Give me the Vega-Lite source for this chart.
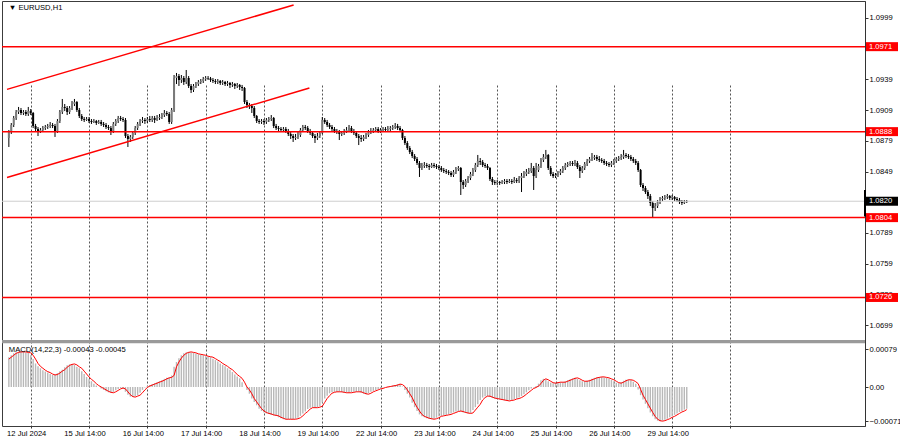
{
"$schema": "https://vega.github.io/schema/vega-lite/v6.json",
"width": 863,
"height": 425,
"autosize": "none",
"padding": {"left": 2, "top": 1, "right": 35, "bottom": 15},
"background": "white",
"config": {
  "view": {"stroke": "#3c3c3c", "strokeWidth": 1},
  "font": "Liberation Sans",
  "axis": {"labelFont": "Liberation Sans", "labelFontSize": 7.6, "labelColor": "#000", "domainColor": "#333", "tickColor": "#333", "title": null, "grid": false}
},
"datasets": {
"tags": [
{"p": 1.0971, "t": "1.0971", "k": "lvl"},
{"p": 1.0888, "t": "1.0888", "k": "lvl"},
{"p": 1.0804, "t": "1.0804", "k": "lvl"},
{"p": 1.0726, "t": "1.0726", "k": "lvl"},
{"p": 1.082, "t": "1.0820", "k": "cur"}
],
"channels": [
{"ch": "a", "i": -9.76, "p": 1.09293},
{"ch": "a", "i": 108.2, "p": 1.10117},
{"ch": "b", "i": -9.76, "p": 1.08431},
{"ch": "b", "i": 114.7, "p": 1.09306}
],
"bars": [
{"i":-9,"o":1.08818,"h":1.08896,"l":1.0873,"c":1.08876,"m":0.00062,"s":0.00058},
{"i":-8,"o":1.08876,"h":1.08964,"l":1.08857,"c":1.08945,"m":0.00066,"s":0.00062},
{"i":-7,"o":1.08945,"h":1.09033,"l":1.08925,"c":1.09013,"m":0.0007,"s":0.00066},
{"i":-6,"o":1.09013,"h":1.09091,"l":1.08994,"c":1.09072,"m":0.00072,"s":0.0007},
{"i":-5,"o":1.09072,"h":1.09121,"l":1.09052,"c":1.09091,"m":0.00073,"s":0.00072},
{"i":-4,"o":1.09091,"h":1.09111,"l":1.09042,"c":1.09062,"m":0.00073,"s":0.00073},
{"i":-3,"o":1.09062,"h":1.09091,"l":1.09042,"c":1.09072,"m":0.00073,"s":0.00073},
{"i":-2,"o":1.09072,"h":1.09091,"l":1.09033,"c":1.09052,"m":0.00072,"s":0.00073},
{"i":-1,"o":1.09052,"h":1.09121,"l":1.09033,"c":1.09081,"m":0.00071,"s":0.00072},
{"i":0,"o":1.09081,"h":1.09101,"l":1.09042,"c":1.09062,"m":0.00066,"s":0.00071},
{"i":1,"o":1.09062,"h":1.09072,"l":1.08915,"c":1.08935,"m":0.00058,"s":0.00066},
{"i":2,"o":1.08935,"h":1.08955,"l":1.08886,"c":1.08906,"m":0.00049,"s":0.00058},
{"i":3,"o":1.08906,"h":1.08925,"l":1.08837,"c":1.08886,"m":0.00043,"s":0.00049},
{"i":4,"o":1.08886,"h":1.08915,"l":1.08867,"c":1.08896,"m":0.00039,"s":0.00043},
{"i":5,"o":1.08896,"h":1.08935,"l":1.08876,"c":1.08915,"m":0.00035,"s":0.00039},
{"i":6,"o":1.08915,"h":1.08945,"l":1.08896,"c":1.08925,"m":0.00032,"s":0.00035},
{"i":7,"o":1.08925,"h":1.08955,"l":1.08906,"c":1.08935,"m":0.0003,"s":0.00032},
{"i":8,"o":1.08935,"h":1.08974,"l":1.08915,"c":1.08945,"m":0.00027,"s":0.0003},
{"i":9,"o":1.08945,"h":1.08964,"l":1.08915,"c":1.08935,"m":0.00025,"s":0.00027},
{"i":10,"o":1.08935,"h":1.08955,"l":1.08828,"c":1.08886,"m":0.00026,"s":0.00025},
{"i":11,"o":1.08886,"h":1.09003,"l":1.08867,"c":1.08984,"m":0.00029,"s":0.00026},
{"i":12,"o":1.08984,"h":1.09091,"l":1.08964,"c":1.09072,"m":0.00033,"s":0.00029},
{"i":13,"o":1.09072,"h":1.09199,"l":1.09052,"c":1.09121,"m":0.00036,"s":0.00033},
{"i":14,"o":1.09121,"h":1.0915,"l":1.09081,"c":1.09111,"m":0.00041,"s":0.00036},
{"i":15,"o":1.09111,"h":1.0913,"l":1.09042,"c":1.09072,"m":0.00045,"s":0.00041},
{"i":16,"o":1.09072,"h":1.0913,"l":1.09052,"c":1.09111,"m":0.00047,"s":0.00045},
{"i":17,"o":1.09111,"h":1.09179,"l":1.09091,"c":1.0915,"m":0.00048,"s":0.00047},
{"i":18,"o":1.0915,"h":1.09199,"l":1.0913,"c":1.09169,"m":0.00046,"s":0.00048},
{"i":19,"o":1.09169,"h":1.09179,"l":1.09072,"c":1.09091,"m":0.00042,"s":0.00046},
{"i":20,"o":1.09091,"h":1.09111,"l":1.09013,"c":1.09033,"m":0.00039,"s":0.00042},
{"i":21,"o":1.09033,"h":1.09052,"l":1.08984,"c":1.09003,"m":0.00033,"s":0.00039},
{"i":22,"o":1.09003,"h":1.09023,"l":1.08974,"c":1.08994,"m":0.00027,"s":0.00033},
{"i":23,"o":1.08994,"h":1.09023,"l":1.08984,"c":1.09003,"m":0.00021,"s":0.00027},
{"i":24,"o":1.09003,"h":1.09023,"l":1.08964,"c":1.08984,"m":0.00016,"s":0.00021},
{"i":25,"o":1.08984,"h":1.09003,"l":1.08955,"c":1.08974,"m":0.00012,"s":0.00016},
{"i":26,"o":1.08974,"h":1.09003,"l":1.08964,"c":1.08984,"m":0.00007,"s":0.00012},
{"i":27,"o":1.08984,"h":1.08994,"l":1.08945,"c":1.08964,"m":0.00003,"s":0.00007},
{"i":28,"o":1.08964,"h":1.08994,"l":1.08955,"c":1.08974,"m":0,"s":0.00003},
{"i":29,"o":1.08974,"h":1.08994,"l":1.08935,"c":1.08955,"m":-0.00003,"s":0},
{"i":30,"o":1.08955,"h":1.08974,"l":1.08925,"c":1.08945,"m":-0.00006,"s":-0.00003},
{"i":31,"o":1.08945,"h":1.08964,"l":1.08906,"c":1.08925,"m":-0.00009,"s":-0.00006},
{"i":32,"o":1.08925,"h":1.08945,"l":1.08896,"c":1.08915,"m":-0.00011,"s":-0.00009},
{"i":33,"o":1.08915,"h":1.08935,"l":1.08847,"c":1.08886,"m":-0.00012,"s":-0.00011},
{"i":34,"o":1.08886,"h":1.08974,"l":1.08867,"c":1.08955,"m":-0.0001,"s":-0.00012},
{"i":35,"o":1.08955,"h":1.09003,"l":1.08935,"c":1.08984,"m":-0.00007,"s":-0.0001},
{"i":36,"o":1.08984,"h":1.09033,"l":1.08964,"c":1.09013,"m":-0.00004,"s":-0.00007},
{"i":37,"o":1.09013,"h":1.09033,"l":1.08984,"c":1.09003,"m":-0.00002,"s":-0.00004},
{"i":38,"o":1.09003,"h":1.09023,"l":1.08974,"c":1.08994,"m":-0.00004,"s":-0.00002},
{"i":39,"o":1.08994,"h":1.09013,"l":1.08818,"c":1.08837,"m":-0.0001,"s":-0.00004},
{"i":40,"o":1.08837,"h":1.08857,"l":1.0873,"c":1.08808,"m":-0.00016,"s":-0.0001},
{"i":41,"o":1.08808,"h":1.08847,"l":1.08779,"c":1.08828,"m":-0.0002,"s":-0.00016},
{"i":42,"o":1.08828,"h":1.08886,"l":1.08808,"c":1.08867,"m":-0.00021,"s":-0.0002},
{"i":43,"o":1.08867,"h":1.08935,"l":1.08847,"c":1.08915,"m":-0.00019,"s":-0.00021},
{"i":44,"o":1.08915,"h":1.08974,"l":1.08896,"c":1.08955,"m":-0.00017,"s":-0.00019},
{"i":45,"o":1.08955,"h":1.09003,"l":1.08935,"c":1.08984,"m":-0.00012,"s":-0.00017},
{"i":46,"o":1.08984,"h":1.09023,"l":1.08964,"c":1.08994,"m":-0.00006,"s":-0.00012},
{"i":47,"o":1.08994,"h":1.09013,"l":1.08955,"c":1.08984,"m":-0.00001,"s":-0.00006},
{"i":48,"o":1.08984,"h":1.09023,"l":1.08964,"c":1.09003,"m":0.00002,"s":-0.00001},
{"i":49,"o":1.09003,"h":1.09033,"l":1.08974,"c":1.08994,"m":0.00004,"s":0.00002},
{"i":50,"o":1.08994,"h":1.09033,"l":1.08974,"c":1.09013,"m":0.00006,"s":0.00004},
{"i":51,"o":1.09013,"h":1.09033,"l":1.08964,"c":1.08994,"m":0.00008,"s":0.00006},
{"i":52,"o":1.08994,"h":1.09042,"l":1.08984,"c":1.09013,"m":0.0001,"s":0.00008},
{"i":53,"o":1.09013,"h":1.09052,"l":1.08994,"c":1.09023,"m":0.00012,"s":0.0001},
{"i":54,"o":1.09023,"h":1.09062,"l":1.09003,"c":1.09042,"m":0.00014,"s":0.00012},
{"i":55,"o":1.09042,"h":1.09091,"l":1.09023,"c":1.09062,"m":0.00017,"s":0.00014},
{"i":56,"o":1.09062,"h":1.09081,"l":1.09033,"c":1.09052,"m":0.00019,"s":0.00017},
{"i":57,"o":1.09052,"h":1.09072,"l":1.08955,"c":1.08974,"m":0.0002,"s":0.00019},
{"i":58,"o":1.08974,"h":1.09111,"l":1.08955,"c":1.09091,"m":0.00024,"s":0.0002},
{"i":59,"o":1.09091,"h":1.09433,"l":1.09072,"c":1.09404,"m":0.00042,"s":0.00024},
{"i":60,"o":1.09404,"h":1.09453,"l":1.09345,"c":1.09423,"m":0.00052,"s":0.00042},
{"i":61,"o":1.09423,"h":1.09443,"l":1.09326,"c":1.09384,"m":0.0006,"s":0.00052},
{"i":62,"o":1.09384,"h":1.09433,"l":1.09355,"c":1.09404,"m":0.00066,"s":0.0006},
{"i":63,"o":1.09404,"h":1.09423,"l":1.09336,"c":1.09365,"m":0.0007,"s":0.00066},
{"i":64,"o":1.09365,"h":1.09482,"l":1.09345,"c":1.09404,"m":0.00072,"s":0.0007},
{"i":65,"o":1.09404,"h":1.09423,"l":1.09306,"c":1.09326,"m":0.00073,"s":0.00072},
{"i":66,"o":1.09326,"h":1.09345,"l":1.09257,"c":1.09287,"m":0.00072,"s":0.00073},
{"i":67,"o":1.09287,"h":1.09345,"l":1.09267,"c":1.09326,"m":0.00071,"s":0.00072},
{"i":68,"o":1.09326,"h":1.09365,"l":1.09306,"c":1.09345,"m":0.00069,"s":0.00071},
{"i":69,"o":1.09345,"h":1.09384,"l":1.09326,"c":1.09365,"m":0.00068,"s":0.00069},
{"i":70,"o":1.09365,"h":1.09394,"l":1.09345,"c":1.09375,"m":0.00067,"s":0.00068},
{"i":71,"o":1.09375,"h":1.09414,"l":1.09355,"c":1.09394,"m":0.00066,"s":0.00067},
{"i":72,"o":1.09394,"h":1.09423,"l":1.09375,"c":1.09404,"m":0.00064,"s":0.00066},
{"i":73,"o":1.09404,"h":1.09423,"l":1.09384,"c":1.09399,"m":0.00063,"s":0.00064},
{"i":74,"o":1.09399,"h":1.09414,"l":1.09365,"c":1.09384,"m":0.00062,"s":0.00063},
{"i":75,"o":1.09384,"h":1.09404,"l":1.09355,"c":1.09375,"m":0.00059,"s":0.00062},
{"i":76,"o":1.09375,"h":1.09394,"l":1.09345,"c":1.09365,"m":0.00056,"s":0.00059},
{"i":77,"o":1.09365,"h":1.09394,"l":1.09345,"c":1.09375,"m":0.00053,"s":0.00056},
{"i":78,"o":1.09375,"h":1.09384,"l":1.09336,"c":1.09355,"m":0.00049,"s":0.00053},
{"i":79,"o":1.09355,"h":1.09384,"l":1.09336,"c":1.09365,"m":0.00046,"s":0.00049},
{"i":80,"o":1.09365,"h":1.09375,"l":1.09326,"c":1.09345,"m":0.00043,"s":0.00046},
{"i":81,"o":1.09345,"h":1.09375,"l":1.09326,"c":1.09355,"m":0.00039,"s":0.00043},
{"i":82,"o":1.09355,"h":1.09365,"l":1.09306,"c":1.09336,"m":0.00036,"s":0.00039},
{"i":83,"o":1.09336,"h":1.09365,"l":1.09316,"c":1.09345,"m":0.00031,"s":0.00036},
{"i":84,"o":1.09345,"h":1.09355,"l":1.09296,"c":1.09326,"m":0.00026,"s":0.00031},
{"i":85,"o":1.09326,"h":1.09355,"l":1.09306,"c":1.09336,"m":0.00022,"s":0.00026},
{"i":86,"o":1.09336,"h":1.09345,"l":1.09287,"c":1.09316,"m":0.00018,"s":0.00022},
{"i":87,"o":1.09316,"h":1.09336,"l":1.09277,"c":1.09306,"m":0.0001,"s":0.00018},
{"i":88,"o":1.09306,"h":1.09316,"l":1.0915,"c":1.09169,"m":0,"s":0.0001},
{"i":89,"o":1.09169,"h":1.09189,"l":1.09111,"c":1.0914,"m":-0.00006,"s":0},
{"i":90,"o":1.0914,"h":1.0916,"l":1.09101,"c":1.0913,"m":-0.00014,"s":-0.00006},
{"i":91,"o":1.0913,"h":1.0915,"l":1.09062,"c":1.09111,"m":-0.00024,"s":-0.00014},
{"i":92,"o":1.09111,"h":1.0913,"l":1.09013,"c":1.09033,"m":-0.00031,"s":-0.00024},
{"i":93,"o":1.09033,"h":1.09042,"l":1.08964,"c":1.08984,"m":-0.00038,"s":-0.00031},
{"i":94,"o":1.08984,"h":1.09003,"l":1.08955,"c":1.08974,"m":-0.00045,"s":-0.00038},
{"i":95,"o":1.08974,"h":1.09003,"l":1.08955,"c":1.08984,"m":-0.0005,"s":-0.00045},
{"i":96,"o":1.08984,"h":1.09003,"l":1.08945,"c":1.08974,"m":-0.00053,"s":-0.0005},
{"i":97,"o":1.08974,"h":1.09013,"l":1.08955,"c":1.08994,"m":-0.00055,"s":-0.00053},
{"i":98,"o":1.08994,"h":1.09023,"l":1.08974,"c":1.09003,"m":-0.00056,"s":-0.00055},
{"i":99,"o":1.09003,"h":1.09042,"l":1.08984,"c":1.09013,"m":-0.00058,"s":-0.00056},
{"i":100,"o":1.09013,"h":1.09023,"l":1.08915,"c":1.08935,"m":-0.00059,"s":-0.00058},
{"i":101,"o":1.08935,"h":1.08955,"l":1.08896,"c":1.08915,"m":-0.0006,"s":-0.00059},
{"i":102,"o":1.08915,"h":1.08935,"l":1.08886,"c":1.08906,"m":-0.00063,"s":-0.0006},
{"i":103,"o":1.08906,"h":1.08925,"l":1.08876,"c":1.08896,"m":-0.00065,"s":-0.00063},
{"i":104,"o":1.08896,"h":1.08925,"l":1.08876,"c":1.08906,"m":-0.00067,"s":-0.00065},
{"i":105,"o":1.08906,"h":1.08925,"l":1.08867,"c":1.08886,"m":-0.00067,"s":-0.00067},
{"i":106,"o":1.08886,"h":1.08906,"l":1.08837,"c":1.08857,"m":-0.00067,"s":-0.00067},
{"i":107,"o":1.08857,"h":1.08876,"l":1.08808,"c":1.08837,"m":-0.00067,"s":-0.00067},
{"i":108,"o":1.08837,"h":1.08857,"l":1.08779,"c":1.08818,"m":-0.00067,"s":-0.00067},
{"i":109,"o":1.08818,"h":1.08857,"l":1.08798,"c":1.08828,"m":-0.00066,"s":-0.00067},
{"i":110,"o":1.08828,"h":1.08876,"l":1.08808,"c":1.08847,"m":-0.00064,"s":-0.00066},
{"i":111,"o":1.08847,"h":1.08915,"l":1.08828,"c":1.08896,"m":-0.0006,"s":-0.00064},
{"i":112,"o":1.08896,"h":1.08945,"l":1.08876,"c":1.08925,"m":-0.00055,"s":-0.0006},
{"i":113,"o":1.08925,"h":1.08945,"l":1.08896,"c":1.08915,"m":-0.00051,"s":-0.00055},
{"i":114,"o":1.08915,"h":1.08935,"l":1.08867,"c":1.08886,"m":-0.00046,"s":-0.00051},
{"i":115,"o":1.08886,"h":1.08906,"l":1.08847,"c":1.08867,"m":-0.00043,"s":-0.00046},
{"i":116,"o":1.08867,"h":1.08886,"l":1.08818,"c":1.08837,"m":-0.00043,"s":-0.00043},
{"i":117,"o":1.08837,"h":1.08857,"l":1.08769,"c":1.08818,"m":-0.00043,"s":-0.00043},
{"i":118,"o":1.08818,"h":1.08867,"l":1.08798,"c":1.08837,"m":-0.00042,"s":-0.00043},
{"i":119,"o":1.08837,"h":1.08886,"l":1.08818,"c":1.08867,"m":-0.0004,"s":-0.00042},
{"i":120,"o":1.08867,"h":1.09023,"l":1.08857,"c":1.08994,"m":-0.00032,"s":-0.0004},
{"i":121,"o":1.08994,"h":1.09013,"l":1.08955,"c":1.08974,"m":-0.00024,"s":-0.00032},
{"i":122,"o":1.08974,"h":1.08994,"l":1.08925,"c":1.08945,"m":-0.00018,"s":-0.00024},
{"i":123,"o":1.08945,"h":1.08964,"l":1.08906,"c":1.08925,"m":-0.00013,"s":-0.00018},
{"i":124,"o":1.08925,"h":1.08945,"l":1.08886,"c":1.08906,"m":-0.00011,"s":-0.00013},
{"i":125,"o":1.08906,"h":1.08925,"l":1.08867,"c":1.08886,"m":-0.0001,"s":-0.00011},
{"i":126,"o":1.08886,"h":1.08906,"l":1.08857,"c":1.08876,"m":-0.0001,"s":-0.0001},
{"i":127,"o":1.08876,"h":1.08896,"l":1.08798,"c":1.08857,"m":-0.0001,"s":-0.0001},
{"i":128,"o":1.08857,"h":1.08886,"l":1.08837,"c":1.08867,"m":-0.00011,"s":-0.0001},
{"i":129,"o":1.08867,"h":1.08906,"l":1.08847,"c":1.08886,"m":-0.00012,"s":-0.00011},
{"i":130,"o":1.08886,"h":1.08925,"l":1.08867,"c":1.08896,"m":-0.00012,"s":-0.00012},
{"i":131,"o":1.08896,"h":1.08945,"l":1.08876,"c":1.08915,"m":-0.00012,"s":-0.00012},
{"i":132,"o":1.08915,"h":1.08935,"l":1.08867,"c":1.08886,"m":-0.00011,"s":-0.00012},
{"i":133,"o":1.08886,"h":1.08906,"l":1.08847,"c":1.08867,"m":-0.0001,"s":-0.00011},
{"i":134,"o":1.08867,"h":1.08886,"l":1.08818,"c":1.08837,"m":-0.0001,"s":-0.0001},
{"i":135,"o":1.08837,"h":1.08857,"l":1.08749,"c":1.08818,"m":-0.0001,"s":-0.0001},
{"i":136,"o":1.08818,"h":1.08847,"l":1.08779,"c":1.08808,"m":-0.00012,"s":-0.0001},
{"i":137,"o":1.08808,"h":1.08847,"l":1.08788,"c":1.08828,"m":-0.00014,"s":-0.00012},
{"i":138,"o":1.08828,"h":1.08867,"l":1.08808,"c":1.08847,"m":-0.00015,"s":-0.00014},
{"i":139,"o":1.08847,"h":1.08896,"l":1.08828,"c":1.08876,"m":-0.00013,"s":-0.00015},
{"i":140,"o":1.08876,"h":1.08915,"l":1.08857,"c":1.08886,"m":-0.0001,"s":-0.00013},
{"i":141,"o":1.08886,"h":1.08915,"l":1.08867,"c":1.08896,"m":-0.00008,"s":-0.0001},
{"i":142,"o":1.08896,"h":1.08925,"l":1.08876,"c":1.08906,"m":-0.00006,"s":-0.00008},
{"i":143,"o":1.08906,"h":1.08925,"l":1.08867,"c":1.08886,"m":-0.00004,"s":-0.00006},
{"i":144,"o":1.08886,"h":1.08915,"l":1.08867,"c":1.08896,"m":-0.00003,"s":-0.00004},
{"i":145,"o":1.08896,"h":1.08925,"l":1.08876,"c":1.08906,"m":-0.00001,"s":-0.00003},
{"i":146,"o":1.08906,"h":1.08925,"l":1.08876,"c":1.08896,"m":0,"s":-0.00001},
{"i":147,"o":1.08896,"h":1.08935,"l":1.08886,"c":1.08906,"m":0.00001,"s":0},
{"i":148,"o":1.08906,"h":1.08935,"l":1.08886,"c":1.08915,"m":0.00002,"s":0.00001},
{"i":149,"o":1.08915,"h":1.08945,"l":1.08896,"c":1.08925,"m":0.00003,"s":0.00002},
{"i":150,"o":1.08925,"h":1.08964,"l":1.08906,"c":1.08935,"m":0.00004,"s":0.00003},
{"i":151,"o":1.08935,"h":1.08955,"l":1.08896,"c":1.08915,"m":0.00006,"s":0.00004},
{"i":152,"o":1.08915,"h":1.08935,"l":1.08876,"c":1.08896,"m":0.00005,"s":0.00006},
{"i":153,"o":1.08896,"h":1.08906,"l":1.08798,"c":1.08818,"m":0.00001,"s":0.00005},
{"i":154,"o":1.08818,"h":1.08837,"l":1.08749,"c":1.08769,"m":-0.00006,"s":0.00001},
{"i":155,"o":1.08769,"h":1.08788,"l":1.08701,"c":1.0872,"m":-0.00014,"s":-0.00006},
{"i":156,"o":1.0872,"h":1.0874,"l":1.08661,"c":1.08681,"m":-0.00022,"s":-0.00014},
{"i":157,"o":1.08681,"h":1.08701,"l":1.08622,"c":1.08642,"m":-0.00033,"s":-0.00022},
{"i":158,"o":1.08642,"h":1.08661,"l":1.08593,"c":1.08613,"m":-0.00042,"s":-0.00033},
{"i":159,"o":1.08613,"h":1.08632,"l":1.08554,"c":1.08574,"m":-0.0005,"s":-0.00042},
{"i":160,"o":1.08574,"h":1.08593,"l":1.08437,"c":1.08525,"m":-0.00057,"s":-0.0005},
{"i":161,"o":1.08525,"h":1.08574,"l":1.08505,"c":1.08544,"m":-0.00061,"s":-0.00057},
{"i":162,"o":1.08544,"h":1.08583,"l":1.08525,"c":1.08554,"m":-0.00063,"s":-0.00061},
{"i":163,"o":1.08554,"h":1.08574,"l":1.08525,"c":1.08544,"m":-0.00065,"s":-0.00063},
{"i":164,"o":1.08544,"h":1.08564,"l":1.08505,"c":1.08534,"m":-0.00066,"s":-0.00065},
{"i":165,"o":1.08534,"h":1.08574,"l":1.08525,"c":1.08554,"m":-0.00067,"s":-0.00066},
{"i":166,"o":1.08554,"h":1.08574,"l":1.08525,"c":1.08544,"m":-0.00066,"s":-0.00067},
{"i":167,"o":1.08544,"h":1.08564,"l":1.08515,"c":1.08534,"m":-0.00064,"s":-0.00066},
{"i":168,"o":1.08534,"h":1.08554,"l":1.08505,"c":1.08525,"m":-0.00061,"s":-0.00064},
{"i":169,"o":1.08525,"h":1.08544,"l":1.08486,"c":1.08505,"m":-0.0006,"s":-0.00061},
{"i":170,"o":1.08505,"h":1.08525,"l":1.08476,"c":1.08495,"m":-0.00059,"s":-0.0006},
{"i":171,"o":1.08495,"h":1.08515,"l":1.08466,"c":1.08486,"m":-0.00058,"s":-0.00059},
{"i":172,"o":1.08486,"h":1.08505,"l":1.08456,"c":1.08476,"m":-0.00057,"s":-0.00058},
{"i":173,"o":1.08476,"h":1.08495,"l":1.08437,"c":1.08456,"m":-0.00055,"s":-0.00057},
{"i":174,"o":1.08456,"h":1.08505,"l":1.08437,"c":1.08486,"m":-0.00053,"s":-0.00055},
{"i":175,"o":1.08486,"h":1.08534,"l":1.08466,"c":1.08515,"m":-0.00051,"s":-0.00053},
{"i":176,"o":1.08515,"h":1.08544,"l":1.08495,"c":1.08525,"m":-0.0005,"s":-0.00051},
{"i":177,"o":1.08525,"h":1.08534,"l":1.08261,"c":1.08388,"m":-0.00051,"s":-0.0005},
{"i":178,"o":1.08388,"h":1.08407,"l":1.0832,"c":1.08359,"m":-0.00053,"s":-0.00051},
{"i":179,"o":1.08359,"h":1.08417,"l":1.08339,"c":1.08398,"m":-0.00054,"s":-0.00053},
{"i":180,"o":1.08398,"h":1.08446,"l":1.08378,"c":1.08427,"m":-0.00055,"s":-0.00054},
{"i":181,"o":1.08427,"h":1.08486,"l":1.08407,"c":1.08466,"m":-0.00054,"s":-0.00055},
{"i":182,"o":1.08466,"h":1.08525,"l":1.08446,"c":1.08505,"m":-0.00048,"s":-0.00054},
{"i":183,"o":1.08505,"h":1.08574,"l":1.08486,"c":1.08554,"m":-0.00042,"s":-0.00048},
{"i":184,"o":1.08554,"h":1.08652,"l":1.08534,"c":1.08593,"m":-0.00036,"s":-0.00042},
{"i":185,"o":1.08593,"h":1.08622,"l":1.08554,"c":1.08583,"m":-0.00027,"s":-0.00036},
{"i":186,"o":1.08583,"h":1.08603,"l":1.08534,"c":1.08554,"m":-0.00022,"s":-0.00027},
{"i":187,"o":1.08554,"h":1.08574,"l":1.08525,"c":1.08544,"m":-0.00019,"s":-0.00022},
{"i":188,"o":1.08544,"h":1.08564,"l":1.08505,"c":1.08525,"m":-0.00019,"s":-0.00019},
{"i":189,"o":1.08525,"h":1.08534,"l":1.08398,"c":1.08417,"m":-0.00021,"s":-0.00019},
{"i":190,"o":1.08417,"h":1.08437,"l":1.08359,"c":1.08388,"m":-0.00023,"s":-0.00021},
{"i":191,"o":1.08388,"h":1.08407,"l":1.08359,"c":1.08378,"m":-0.00024,"s":-0.00023},
{"i":192,"o":1.08378,"h":1.08407,"l":1.08359,"c":1.08388,"m":-0.00025,"s":-0.00024},
{"i":193,"o":1.08388,"h":1.08398,"l":1.08359,"c":1.08378,"m":-0.00026,"s":-0.00025},
{"i":194,"o":1.08378,"h":1.08407,"l":1.08368,"c":1.08388,"m":-0.00027,"s":-0.00026},
{"i":195,"o":1.08388,"h":1.08417,"l":1.08368,"c":1.08398,"m":-0.00028,"s":-0.00027},
{"i":196,"o":1.08398,"h":1.08417,"l":1.08368,"c":1.08388,"m":-0.00029,"s":-0.00028},
{"i":197,"o":1.08388,"h":1.08417,"l":1.08378,"c":1.08398,"m":-0.00028,"s":-0.00029},
{"i":198,"o":1.08398,"h":1.08417,"l":1.08368,"c":1.08388,"m":-0.00027,"s":-0.00028},
{"i":199,"o":1.08388,"h":1.08437,"l":1.08378,"c":1.08407,"m":-0.00025,"s":-0.00027},
{"i":200,"o":1.08407,"h":1.08427,"l":1.08378,"c":1.08398,"m":-0.00024,"s":-0.00025},
{"i":201,"o":1.08398,"h":1.08446,"l":1.08378,"c":1.08427,"m":-0.00022,"s":-0.00024},
{"i":202,"o":1.08427,"h":1.08476,"l":1.0829,"c":1.08446,"m":-0.00019,"s":-0.00022},
{"i":203,"o":1.08446,"h":1.08495,"l":1.08427,"c":1.08466,"m":-0.00015,"s":-0.00019},
{"i":204,"o":1.08466,"h":1.08515,"l":1.08446,"c":1.08486,"m":-0.00011,"s":-0.00015},
{"i":205,"o":1.08486,"h":1.08525,"l":1.08466,"c":1.08495,"m":-0.00007,"s":-0.00011},
{"i":206,"o":1.08495,"h":1.08574,"l":1.08476,"c":1.08525,"m":-0.00003,"s":-0.00007},
{"i":207,"o":1.08525,"h":1.08544,"l":1.0831,"c":1.08446,"m":-0.00001,"s":-0.00003},
{"i":208,"o":1.08446,"h":1.08574,"l":1.08427,"c":1.08505,"m":0.00002,"s":-0.00001},
{"i":209,"o":1.08505,"h":1.08564,"l":1.08486,"c":1.08544,"m":0.00007,"s":0.00002},
{"i":210,"o":1.08544,"h":1.08622,"l":1.08525,"c":1.08603,"m":0.00014,"s":0.00007},
{"i":211,"o":1.08603,"h":1.08661,"l":1.08583,"c":1.08632,"m":0.00017,"s":0.00014},
{"i":212,"o":1.08632,"h":1.08701,"l":1.08613,"c":1.08652,"m":0.00015,"s":0.00017},
{"i":213,"o":1.08652,"h":1.08661,"l":1.08505,"c":1.08525,"m":0.00012,"s":0.00015},
{"i":214,"o":1.08525,"h":1.08544,"l":1.08446,"c":1.08466,"m":0.00009,"s":0.00012},
{"i":215,"o":1.08466,"h":1.08486,"l":1.08427,"c":1.08446,"m":0.00008,"s":0.00009},
{"i":216,"o":1.08446,"h":1.08476,"l":1.08427,"c":1.08456,"m":0.00009,"s":0.00008},
{"i":217,"o":1.08456,"h":1.08495,"l":1.08437,"c":1.08476,"m":0.0001,"s":0.00009},
{"i":218,"o":1.08476,"h":1.08515,"l":1.08456,"c":1.08495,"m":0.0001,"s":0.0001},
{"i":219,"o":1.08495,"h":1.08544,"l":1.08476,"c":1.08525,"m":0.0001,"s":0.0001},
{"i":220,"o":1.08525,"h":1.08574,"l":1.08505,"c":1.08554,"m":0.00012,"s":0.0001},
{"i":221,"o":1.08554,"h":1.08583,"l":1.08534,"c":1.08564,"m":0.00014,"s":0.00012},
{"i":222,"o":1.08564,"h":1.08593,"l":1.08544,"c":1.08574,"m":0.00016,"s":0.00014},
{"i":223,"o":1.08574,"h":1.08593,"l":1.08544,"c":1.08564,"m":0.00018,"s":0.00016},
{"i":224,"o":1.08564,"h":1.08603,"l":1.08544,"c":1.08574,"m":0.00019,"s":0.00018},
{"i":225,"o":1.08574,"h":1.08593,"l":1.08515,"c":1.08534,"m":0.00017,"s":0.00019},
{"i":226,"o":1.08534,"h":1.08554,"l":1.08427,"c":1.08495,"m":0.00014,"s":0.00017},
{"i":227,"o":1.08495,"h":1.08544,"l":1.08476,"c":1.08525,"m":0.00012,"s":0.00014},
{"i":228,"o":1.08525,"h":1.08583,"l":1.08505,"c":1.08564,"m":0.00012,"s":0.00012},
{"i":229,"o":1.08564,"h":1.08613,"l":1.08544,"c":1.08593,"m":0.00013,"s":0.00012},
{"i":230,"o":1.08593,"h":1.08632,"l":1.08574,"c":1.08613,"m":0.00015,"s":0.00013},
{"i":231,"o":1.08613,"h":1.08671,"l":1.08593,"c":1.08622,"m":0.00017,"s":0.00015},
{"i":232,"o":1.08622,"h":1.08652,"l":1.08603,"c":1.08632,"m":0.00019,"s":0.00017},
{"i":233,"o":1.08632,"h":1.08652,"l":1.08593,"c":1.08613,"m":0.0002,"s":0.00019},
{"i":234,"o":1.08613,"h":1.08642,"l":1.08583,"c":1.08603,"m":0.00021,"s":0.0002},
{"i":235,"o":1.08603,"h":1.08622,"l":1.08574,"c":1.08593,"m":0.00021,"s":0.00021},
{"i":236,"o":1.08593,"h":1.08613,"l":1.08554,"c":1.08574,"m":0.0002,"s":0.00021},
{"i":237,"o":1.08574,"h":1.08593,"l":1.08544,"c":1.08564,"m":0.00019,"s":0.0002},
{"i":238,"o":1.08564,"h":1.08583,"l":1.08534,"c":1.08554,"m":0.00017,"s":0.00019},
{"i":239,"o":1.08554,"h":1.08593,"l":1.08534,"c":1.08574,"m":0.00015,"s":0.00017},
{"i":240,"o":1.08574,"h":1.08613,"l":1.08554,"c":1.08593,"m":0.00012,"s":0.00015},
{"i":241,"o":1.08593,"h":1.08632,"l":1.08574,"c":1.08613,"m":0.00009,"s":0.00012},
{"i":242,"o":1.08613,"h":1.08642,"l":1.08593,"c":1.08622,"m":0.00008,"s":0.00009},
{"i":243,"o":1.08622,"h":1.08661,"l":1.08603,"c":1.08632,"m":0.0001,"s":0.00008},
{"i":244,"o":1.08632,"h":1.08701,"l":1.08613,"c":1.08652,"m":0.00013,"s":0.0001},
{"i":245,"o":1.08652,"h":1.08671,"l":1.08622,"c":1.08642,"m":0.00015,"s":0.00013},
{"i":246,"o":1.08642,"h":1.08661,"l":1.08613,"c":1.08632,"m":0.00015,"s":0.00015},
{"i":247,"o":1.08632,"h":1.08652,"l":1.08593,"c":1.08613,"m":0.00014,"s":0.00015},
{"i":248,"o":1.08613,"h":1.08632,"l":1.08574,"c":1.08593,"m":0.00011,"s":0.00014},
{"i":249,"o":1.08593,"h":1.08613,"l":1.08554,"c":1.08574,"m":0.00007,"s":0.00011},
{"i":250,"o":1.08574,"h":1.08593,"l":1.08486,"c":1.08505,"m":-0.00005,"s":0.00007},
{"i":251,"o":1.08505,"h":1.08515,"l":1.08339,"c":1.08359,"m":-0.00017,"s":-0.00005},
{"i":252,"o":1.08359,"h":1.08378,"l":1.083,"c":1.08329,"m":-0.00026,"s":-0.00017},
{"i":253,"o":1.08329,"h":1.08349,"l":1.08271,"c":1.0829,"m":-0.00035,"s":-0.00026},
{"i":254,"o":1.0829,"h":1.0831,"l":1.08222,"c":1.08251,"m":-0.00044,"s":-0.00035},
{"i":255,"o":1.08251,"h":1.08271,"l":1.08153,"c":1.08183,"m":-0.00053,"s":-0.00044},
{"i":256,"o":1.08183,"h":1.08202,"l":1.0804,"c":1.08134,"m":-0.00061,"s":-0.00053},
{"i":257,"o":1.08134,"h":1.08183,"l":1.08105,"c":1.08153,"m":-0.00067,"s":-0.00061},
{"i":258,"o":1.08153,"h":1.08212,"l":1.08134,"c":1.08192,"m":-0.0007,"s":-0.00067},
{"i":259,"o":1.08192,"h":1.08241,"l":1.08173,"c":1.08222,"m":-0.00071,"s":-0.0007},
{"i":260,"o":1.08222,"h":1.08251,"l":1.08202,"c":1.08232,"m":-0.0007,"s":-0.00071},
{"i":261,"o":1.08232,"h":1.08261,"l":1.08212,"c":1.08241,"m":-0.00068,"s":-0.0007},
{"i":262,"o":1.08241,"h":1.08271,"l":1.08222,"c":1.08251,"m":-0.00066,"s":-0.00068},
{"i":263,"o":1.08251,"h":1.08261,"l":1.08212,"c":1.08232,"m":-0.00063,"s":-0.00066},
{"i":264,"o":1.08232,"h":1.08261,"l":1.08212,"c":1.08241,"m":-0.00061,"s":-0.00063},
{"i":265,"o":1.08241,"h":1.08251,"l":1.08202,"c":1.08222,"m":-0.00058,"s":-0.00061},
{"i":266,"o":1.08222,"h":1.08241,"l":1.08192,"c":1.08212,"m":-0.00055,"s":-0.00058},
{"i":267,"o":1.08212,"h":1.08232,"l":1.08173,"c":1.08192,"m":-0.00052,"s":-0.00055},
{"i":268,"o":1.08192,"h":1.08212,"l":1.08163,"c":1.08183,"m":-0.0005,"s":-0.00052},
{"i":269,"o":1.08183,"h":1.08212,"l":1.08173,"c":1.08192,"m":-0.00047,"s":-0.0005},
{"i":270,"o":1.08192,"h":1.08212,"l":1.08183,"c":1.082,"m":-0.00045,"s":-0.00047}
]
},
"resolve": {"scale": {"y": "independent"}, "axis": {"y": "independent"}},
"layer": [
{
  "layer": [
    {
      "data": {"name": "bars"},
      "mark": {"type": "rule", "color": "#000", "strokeWidth": 1},
      "encoding": {
        "x": {"field": "i", "type": "quantitative",
              "scale": {"domain": [-9.76, 341.3], "nice": false, "zero": false},
              "axis": {"values": [0,24,48,72,96,120,144,168,192,216,240,264,288], "grid": true, "gridColor": "#555", "gridDash": [2,2], "gridWidth": 1, "domain": false, "tickSize": 2, "labelPadding": 1, "labelOffset": -4.5, "labelFlush": false, "labelOverlap": false,
                       "labelExpr": "datum.value >= 288 ? '' : ['12 Jul 2024','15 Jul 14:00','16 Jul 14:00','17 Jul 14:00','18 Jul 14:00','19 Jul 14:00','22 Jul 14:00','23 Jul 14:00','24 Jul 14:00','25 Jul 14:00','26 Jul 14:00','29 Jul 14:00'][round(datum.value / 24)]"}},
        "y": {"field": "l", "type": "quantitative",
              "scale": {"domain": [1.06825, 1.10156], "range": [341, 0], "nice": false, "zero": false},
              "axis": {"orient": "right", "values": [1.0999,1.0939,1.0909,1.0879,1.0849,1.0789,1.0759,1.0729,1.0699], "format": ".4f", "tickSize": 3, "labelPadding": 1, "domain": true}},
        "y2": {"field": "h"}
      }
    },
    {
      "data": {"name": "bars"},
      "mark": {"type": "bar", "size": 2},
      "encoding": {
        "x": {"field": "i", "type": "quantitative"},
        "y": {"field": "o", "type": "quantitative"},
        "y2": {"field": "c"},
        "color": {"condition": {"test": "datum.c >= datum.o", "value": "#7a7a7a"}, "value": "#000000"}
      }
    },
    {
      "data": {"name": "tags"},
      "transform": [{"filter": "datum.k == 'cur'"}],
      "mark": {"type": "rule", "color": "#cfcfcf", "strokeWidth": 1},
      "encoding": {"y": {"field": "p", "type": "quantitative"}}
    },
    {
      "data": {"name": "tags"},
      "transform": [{"filter": "datum.k == 'lvl'"}],
      "mark": {"type": "rule", "color": "#ff0000", "strokeWidth": 1.5},
      "encoding": {"y": {"field": "p", "type": "quantitative"}}
    },
    {
      "data": {"name": "channels"},
      "mark": {"type": "line", "color": "#ff0000", "strokeWidth": 1.5},
      "encoding": {
        "x": {"field": "i", "type": "quantitative"},
        "y": {"field": "p", "type": "quantitative"},
        "detail": {"field": "ch"}
      }
    },
    {
      "data": {"values": [{"top": 1.06845, "bottom": 1.06812}]},
      "mark": {"type": "rect", "color": "#9a9a9a"},
      "encoding": {
        "y": {"field": "top", "type": "quantitative"},
        "y2": {"field": "bottom"}
      }
    },
    {
      "data": {"values": [{"top": 1.0831, "bottom": 1.0805}]},
      "mark": {"type": "rule", "color": "#000000", "strokeWidth": 2, "clip": false},
      "encoding": {
        "x": {"value": "width"},
        "y": {"field": "top", "type": "quantitative"},
        "y2": {"field": "bottom"}
      }
    },
    {
      "data": {"name": "tags"},
      "mark": {"type": "rect", "xOffset": 1, "x2Offset": 33, "yOffset": -4.5, "y2Offset": 4.5, "clip": false},
      "encoding": {
        "x": {"value": "width"},
        "x2": {"value": "width"},
        "y": {"field": "p", "type": "quantitative"},
        "y2": {"field": "p"},
        "color": {"condition": {"test": "datum.k == 'cur'", "value": "#000000"}, "value": "#ff0000"}
      }
    },
    {
      "data": {"name": "tags"},
      "mark": {"type": "text", "align": "left", "baseline": "middle", "dx": 4, "fontSize": 7.6, "font": "Liberation Sans", "color": "#ffffff", "clip": false},
      "encoding": {
        "x": {"value": "width"},
        "y": {"field": "p", "type": "quantitative"},
        "text": {"field": "t"}
      }
    },
    {
      "data": {"values": [{"t": "▼ EURUSD,H1", "i": -9, "p": 1.10088}]},
      "mark": {"type": "text", "align": "left", "baseline": "middle", "fontSize": 7.6, "font": "Liberation Sans", "color": "#000"},
      "encoding": {
        "x": {"field": "i", "type": "quantitative"},
        "y": {"field": "p", "type": "quantitative"},
        "text": {"field": "t"}
      }
    }
  ]
},
{
  "layer": [
    {
      "data": {"name": "bars"},
      "mark": {"type": "bar", "size": 1.4, "color": "#b8b8b8"},
      "encoding": {
        "x": {"field": "i", "type": "quantitative"},
        "y": {"field": "m", "type": "quantitative",
              "scale": {"domain": [-0.000811, 0.000936], "range": [425, 341], "nice": false, "zero": false},
              "axis": {"orient": "right", "values": [0.00079, 0, -0.00071], "labelExpr": "datum.value == 0 ? '0.00' : format(datum.value, '.5f')", "tickSize": 3, "labelPadding": 1}},
        "y2": {"datum": 0}
      }
    },
    {
      "data": {"name": "bars"},
      "mark": {"type": "line", "color": "#ff0000", "strokeWidth": 1},
      "encoding": {
        "x": {"field": "i", "type": "quantitative"},
        "y": {"field": "s", "type": "quantitative"}
      }
    },
    {
      "data": {"values": [{"t": "MACD(14,22,3) -0.00043 -0.00045", "i": -9, "v": 0.00078}]},
      "mark": {"type": "text", "align": "left", "baseline": "middle", "fontSize": 7.6, "font": "Liberation Sans", "color": "#000"},
      "encoding": {
        "x": {"field": "i", "type": "quantitative"},
        "y": {"field": "v", "type": "quantitative"},
        "text": {"field": "t"}
      }
    }
  ]
}
]
}
